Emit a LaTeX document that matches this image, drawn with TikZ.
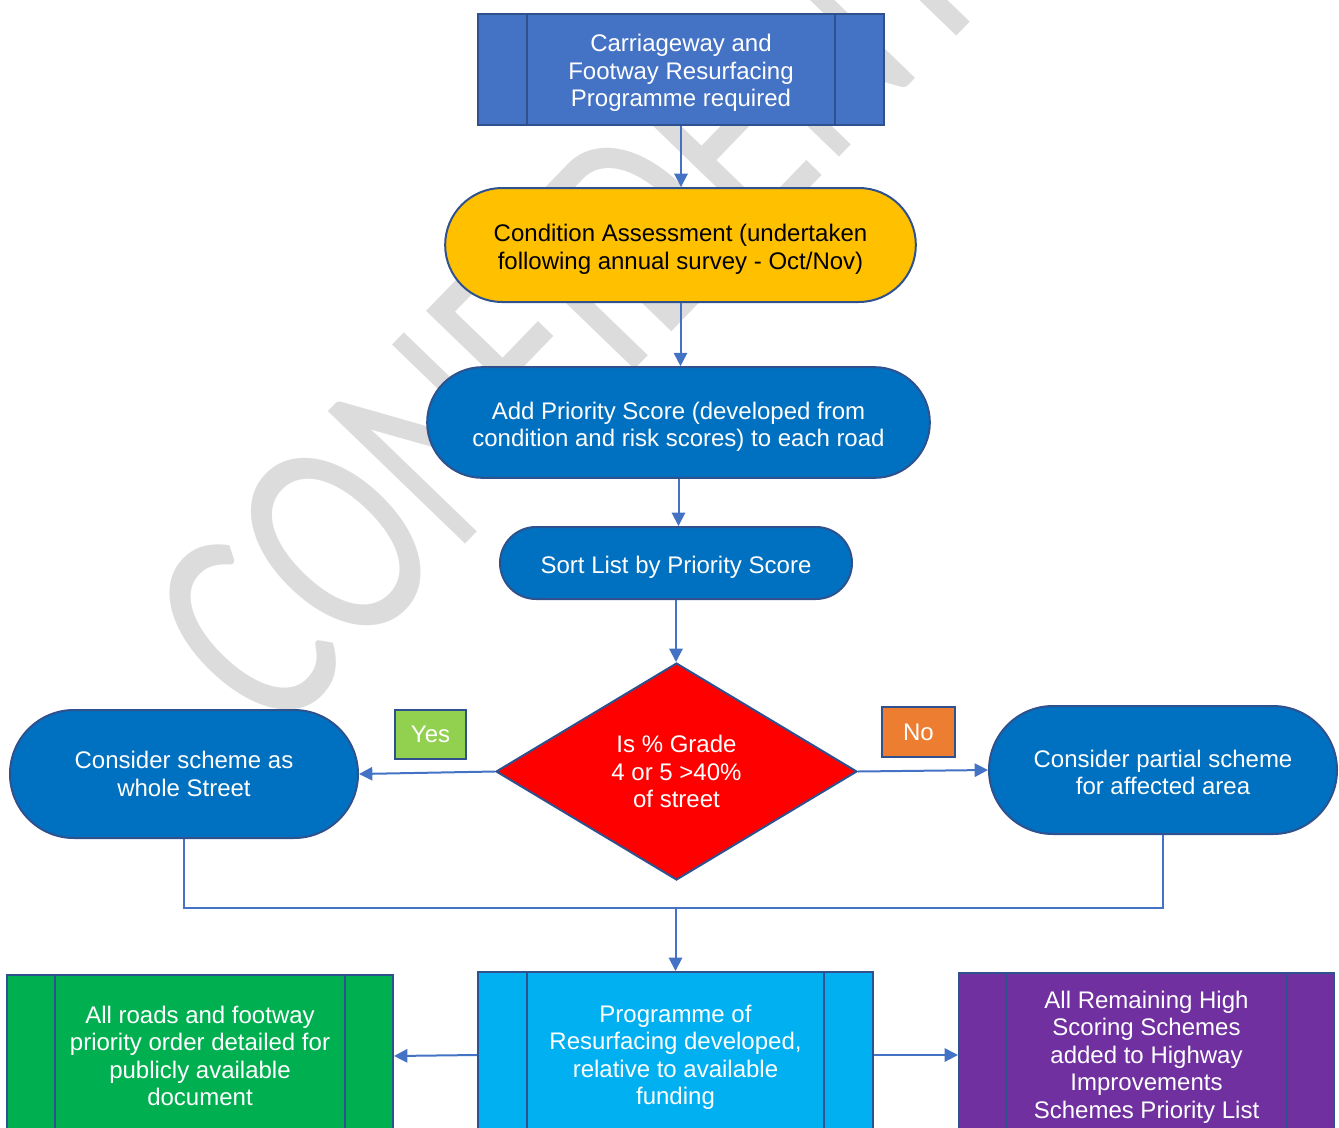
\documentclass[tikz,border=0pt]{standalone}
\usepackage{fontspec}
\setmainfont{Liberation Sans}
\newfontfamily\wmfont{Carlito}
\usetikzlibrary{arrows.meta}
\usetikzlibrary{shapes.misc}
\usetikzlibrary{shapes.geometric}
\definecolor{edgeblue}{HTML}{2F528F}
\definecolor{lineblue}{HTML}{4472C4}
\definecolor{headblue}{HTML}{4472C4}
\definecolor{condyellow}{HTML}{FFC000}
\definecolor{stepblue}{HTML}{0070C0}
\definecolor{yesgreen}{HTML}{92D050}
\definecolor{noorange}{HTML}{ED7D31}
\definecolor{progcyan}{HTML}{00B0F0}
\definecolor{pubgreen}{HTML}{00B050}
\definecolor{listpurple}{HTML}{7030A0}
\definecolor{wmgray}{HTML}{DCDCDC}
\newcommand{\padtop}[1][18pt]{\rule{0pt}{#1}}

\begin{document}
\begin{tikzpicture}[x=0.75pt, y=-0.75pt,
  every node/.style={font=\fontsize{18}{20.6}\selectfont, align=center, text=white, inner sep=0pt},
  procbox/.style={rectangle, draw=edgeblue, line width=1.5pt,
    path picture={
      \draw[edgeblue, line width=1.5pt]
        ([xshift=#1]path picture bounding box.north west) -- ([xshift=#1]path picture bounding box.south west)
        ([xshift=-#1]path picture bounding box.north east) -- ([xshift=-#1]path picture bounding box.south east);}},
  procbox/.default=37pt,
  roundbox/.style={rounded rectangle, draw=edgeblue, line width=1.5pt, fill=stepblue},
  tagbox/.style={rectangle, draw=edgeblue, line width=1.5pt},
  conn/.style={draw=lineblue, line width=1.5pt},
  arr/.style={conn, -{Triangle[length=10pt,width=10pt]}}]

  \useasboundingbox (0,0) rectangle (1339,1128);
  \clip (0,0) rectangle (1339,1128);

  % watermark
  \node[text=wmgray, font=\wmfont\fontsize{164}{164}\selectfont, rotate=46] (wm) at (664,202)
    {\scalebox{1}[1.36]{CONFIDENTIAL}};

  % main column
  \node[procbox, fill=headblue, minimum width=304.5pt, minimum height=83.25pt] (top) at (681,69.5)
    {\padtop Carriageway and\\Footway Resurfacing\\Programme required};
  \node[roundbox, fill=condyellow, text=black, minimum width=353pt, minimum height=85.5pt] (cond) at (680.5,245)
    {\padtop[19.3pt]Condition Assessment (undertaken\\following annual survey - Oct/Nov)};
  \node[roundbox, minimum width=377pt, minimum height=83pt] (prio) at (678.5,422.5)
    {\padtop[19.3pt]Add Priority Score (developed from\\condition and risk scores) to each road};
  \node[roundbox, minimum width=264pt, minimum height=54pt] (sort) at (676,563)
    {\padtop[19pt]Sort List by Priority Score};
  \node[diamond, draw=edgeblue, line width=1.5pt, fill=red, aspect=1.66,
    minimum width=270.75pt, minimum height=162.75pt] (dec) at (676.5,771.5)
    {Is \% Grade\\4 or 5 >40\%\\of street};

  % branches
  \node[roundbox, minimum width=261pt, minimum height=96pt] (whole) at (184,774)
    {Consider scheme as\\whole Street};
  \node[roundbox, minimum width=261pt, minimum height=96pt] (part) at (1163,770)
    {\padtop[16.3pt]Consider partial scheme\\for affected area};
  \node[tagbox, fill=yesgreen, minimum width=53.25pt, minimum height=36.75pt] (yes) at (430.5,734.5) {Yes};
  \node[tagbox, fill=noorange, minimum width=54.75pt, minimum height=37.5pt] (no) at (918.5,732) {No};

  % bottom row
  \node[procbox, fill=progcyan, minimum width=296.25pt, minimum height=124.5pt] (prog) at (675.5,1055)
    {\padtop[16.3pt]Programme of\\Resurfacing developed,\\relative to available\\funding};
  \node[procbox=36pt, fill=pubgreen, minimum width=289.5pt, minimum height=121.5pt] (pub) at (200,1056)
    {All roads and footway\\priority order detailed for\\publicly available\\document};
  \node[procbox=35pt, fill=listpurple, minimum width=281.25pt, minimum height=123pt] (list) at (1146.5,1055)
    {\padtop[16.3pt]All Remaining High\\Scoring Schemes\\added to Highway\\Improvements\\Schemes Priority List};

  % connectors
  \draw[arr] (top.south) -- (top.south |- cond.north);
  \draw[arr] (cond.south) -- (cond.south |- prio.north);
  \draw[arr] (prio.south) -- (prio.south |- sort.north);
  \draw[arr] (sort.south) -- (sort.south |- dec.north);
  \draw[arr] (dec.west) -- (whole.east);
  \draw[arr] (dec.east) -- (part.west);
  \coordinate (merge) at (675.5,908);
  \draw[conn] (whole.south) |- (merge) -| (part.south);
  \draw[arr] (merge) -- (merge |- prog.north);
  \draw[arr] (prog.west) -- (pub.east);
  \draw[arr] (prog.east) -- (list.west);
\end{tikzpicture}
\end{document}
